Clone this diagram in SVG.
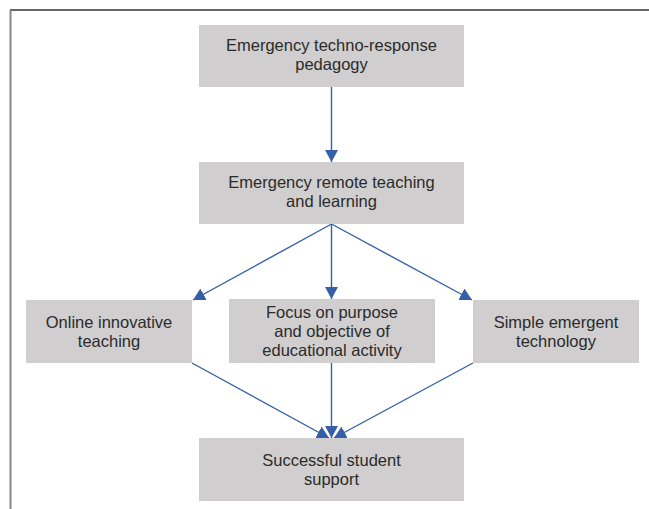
<svg xmlns="http://www.w3.org/2000/svg" width="649" height="509" viewBox="0 0 649 509">
<style>
.box{fill:#d0cece;}
.t{font-family:"Liberation Sans",Arial,sans-serif;font-size:16.5px;fill:#2b2b2b;text-anchor:middle;}
.c{stroke:#3560a8;stroke-width:1.4;fill:none;marker-end:url(#ah);}
</style>
<defs>
<marker id="ah" markerUnits="userSpaceOnUse" markerWidth="13" markerHeight="13" refX="12" refY="6.5" orient="auto" viewBox="0 0 13 13">
<path d="M0,0 L12,6.5 L0,13 z" fill="#3560a8"/>
</marker>
</defs>
<g id="frame">
<line x1="10" y1="10" x2="649" y2="10" stroke="#333" stroke-width="1.5"/>
<line x1="10.5" y1="10" x2="10.5" y2="509" stroke="#888" stroke-width="2"/>
</g>
<g id="connectors">
<line class="c" x1="331.5" y1="87" x2="331.5" y2="162"/>
<line class="c" x1="331.5" y1="224" x2="193" y2="300"/>
<line class="c" x1="331.5" y1="224" x2="331.5" y2="299"/>
<line class="c" x1="331.5" y1="224" x2="472" y2="300"/>
<line class="c" x1="192" y1="363" x2="329" y2="438"/>
<line class="c" x1="331.5" y1="363" x2="331.5" y2="438"/>
<line class="c" x1="473" y1="363" x2="334" y2="438"/>
</g>
<g id="n1">
<rect class="box" x="199" y="25" width="265" height="62"/>
<text class="t" x="331.5" y="51">Emergency techno-response</text>
<text class="t" x="331.5" y="70">pedagogy</text>
</g>
<g id="n2">
<rect class="box" x="199" y="162" width="265" height="62"/>
<text class="t" x="331.5" y="188">Emergency remote teaching</text>
<text class="t" x="331.5" y="207">and learning</text>
</g>
<g id="n3">
<rect class="box" x="26" y="300" width="166" height="63"/>
<text class="t" x="109" y="328">Online innovative</text>
<text class="t" x="109" y="347">teaching</text>
</g>
<g id="n4">
<rect class="box" x="229" y="299" width="206" height="64"/>
<text class="t" x="332" y="318">Focus on purpose</text>
<text class="t" x="332" y="337">and objective of</text>
<text class="t" x="332" y="356">educational activity</text>
</g>
<g id="n5">
<rect class="box" x="473" y="300" width="166" height="63"/>
<text class="t" x="556" y="328">Simple emergent</text>
<text class="t" x="556" y="347">technology</text>
</g>
<g id="n6">
<rect class="box" x="199" y="438" width="265" height="63"/>
<text class="t" x="331.5" y="466">Successful student</text>
<text class="t" x="331.5" y="485">support</text>
</g>
</svg>
